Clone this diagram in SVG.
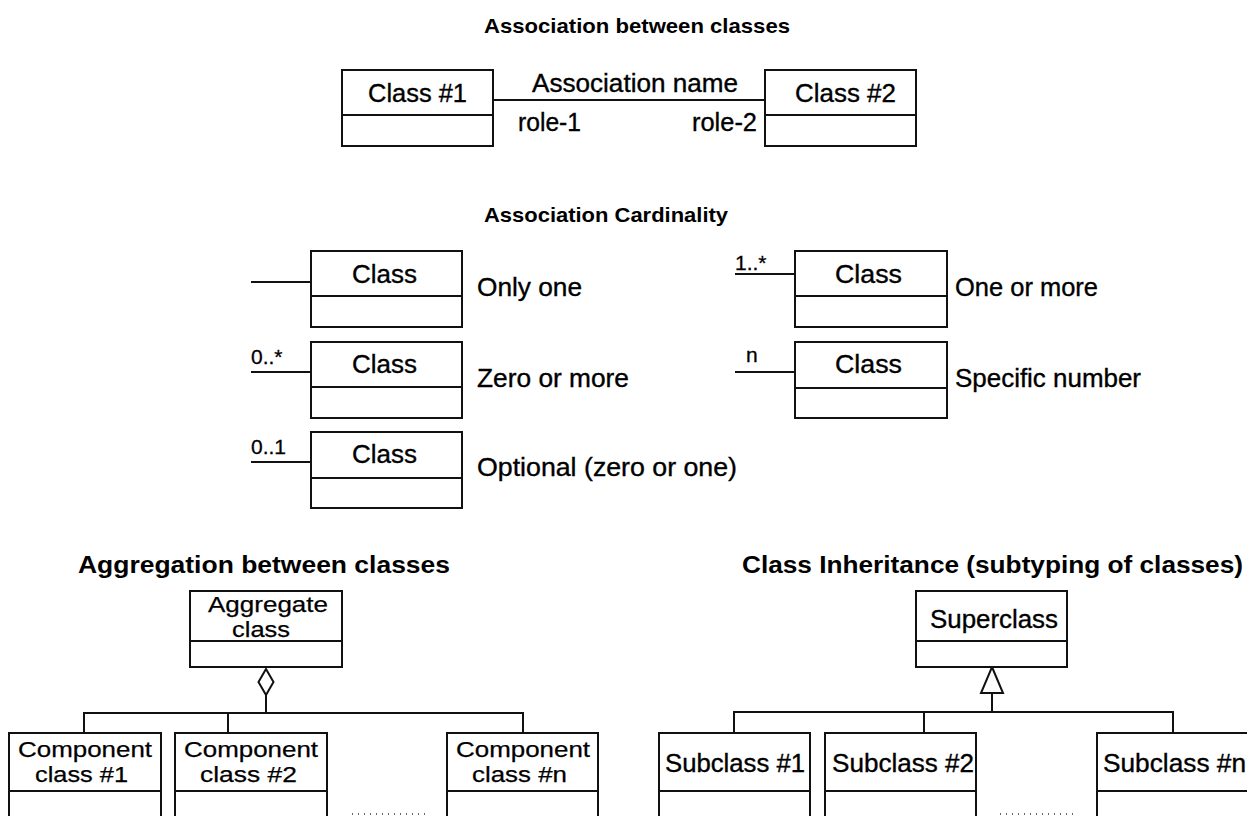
<svg xmlns="http://www.w3.org/2000/svg" width="1247" height="816" viewBox="0 0 1247 816">
<style>
.bx{fill:#fff;stroke:#111;stroke-width:2}
.dv{stroke:#111;stroke-width:2}
.cn{stroke:#111;stroke-width:2;fill:none}
.hd{fill:#fff;stroke:#111;stroke-width:2}
.dot{stroke:#333;stroke-width:1.5;stroke-dasharray:1 5;fill:none}
text{font-family:"Liberation Sans",Arial,sans-serif;fill:#000}
.t{font-size:25px;stroke:#000;stroke-width:0.35}
.m{font-size:22.5px;stroke:#000;stroke-width:0.25}
.s{font-size:21px;stroke:#000;stroke-width:0.3}
.h1{font-size:21px;font-weight:bold}
.h2{font-size:23px;font-weight:bold}
</style>
<rect width="1247" height="816" fill="#fff"/>

<g id="titles">
<text class="h1" x="484" y="33" textLength="306" lengthAdjust="spacingAndGlyphs">Association between classes</text>
<text class="h1" x="484" y="222" textLength="244" lengthAdjust="spacingAndGlyphs">Association Cardinality</text>
<text class="h2" x="78" y="573" textLength="372" lengthAdjust="spacingAndGlyphs">Aggregation between classes</text>
<text class="h2" x="742" y="573" textLength="501" lengthAdjust="spacingAndGlyphs">Class Inheritance (subtyping of classes)</text>
</g>

<g id="connectors">
<line class="cn" x1="493" y1="100" x2="765" y2="100"/>
<line class="cn" x1="251" y1="282" x2="311" y2="282"/>
<line class="cn" x1="251" y1="372" x2="311" y2="372"/>
<line class="cn" x1="251" y1="462" x2="311" y2="462"/>
<line class="cn" x1="735" y1="274" x2="795" y2="274"/>
<line class="cn" x1="735" y1="372" x2="795" y2="372"/>
<polyline class="cn" points="266,695 266,713"/>
<polyline class="cn" points="84,733 84,713 523,713 523,733"/>
<line class="cn" x1="228" y1="713" x2="228" y2="733"/>
<polygon class="hd" points="266,669 273.5,682 266,695 258.5,682"/>
<polyline class="cn" points="992,693 992,712"/>
<polyline class="cn" points="734,733 734,712 1173,712 1173,733"/>
<line class="cn" x1="924" y1="712" x2="924" y2="733"/>
<polygon class="hd" points="992,667 1003,693 981,693"/>
<line class="dot" x1="352" y1="814" x2="427" y2="814"/>
<line class="dot" x1="1000" y1="814" x2="1078" y2="814"/>
</g>

<g id="assoc-labels">
<text class="t" x="532" y="92" textLength="206" lengthAdjust="spacingAndGlyphs">Association name</text>
<text class="t" x="518" y="131" textLength="63" lengthAdjust="spacingAndGlyphs">role-1</text>
<text class="t" x="692" y="131" textLength="65" lengthAdjust="spacingAndGlyphs">role-2</text>
</g>

<g id="class1">
<rect class="bx" x="342" y="70" width="151" height="76"/>
<line class="dv" x1="342" y1="115" x2="493" y2="115"/>
<text class="t" x="368" y="102" textLength="99" lengthAdjust="spacingAndGlyphs">Class #1</text>
</g>
<g id="class2">
<rect class="bx" x="765" y="70" width="151" height="76"/>
<line class="dv" x1="765" y1="115" x2="916" y2="115"/>
<text class="t" x="795" y="102" textLength="101" lengthAdjust="spacingAndGlyphs">Class #2</text>
</g>

<g id="card-only-one">
<rect class="bx" x="311" y="251" width="151" height="76"/>
<line class="dv" x1="311" y1="296" x2="462" y2="296"/>
<text class="t" x="352" y="283" textLength="65" lengthAdjust="spacingAndGlyphs">Class</text>
<text class="t" x="477" y="296" textLength="105" lengthAdjust="spacingAndGlyphs">Only one</text>
</g>
<g id="card-zero-more">
<rect class="bx" x="311" y="342" width="151" height="76"/>
<line class="dv" x1="311" y1="387" x2="462" y2="387"/>
<text class="t" x="352" y="373" textLength="65" lengthAdjust="spacingAndGlyphs">Class</text>
<text class="t" x="477" y="387" textLength="152" lengthAdjust="spacingAndGlyphs">Zero or more</text>
<text class="s" x="251" y="364">0..*</text>
</g>
<g id="card-optional">
<rect class="bx" x="311" y="432" width="151" height="76"/>
<line class="dv" x1="311" y1="478" x2="462" y2="478"/>
<text class="t" x="352" y="463" textLength="65" lengthAdjust="spacingAndGlyphs">Class</text>
<text class="t" x="477" y="476" textLength="260" lengthAdjust="spacingAndGlyphs">Optional (zero or one)</text>
<text class="s" x="251" y="454">0..1</text>
</g>
<g id="card-one-more">
<rect class="bx" x="795" y="251" width="152" height="76"/>
<line class="dv" x1="795" y1="296" x2="947" y2="296"/>
<text class="t" x="835" y="283" textLength="67" lengthAdjust="spacingAndGlyphs">Class</text>
<text class="t" x="955" y="296" textLength="143" lengthAdjust="spacingAndGlyphs">One or more</text>
<text class="s" x="735" y="270">1..*</text>
</g>
<g id="card-specific">
<rect class="bx" x="795" y="342" width="152" height="76"/>
<line class="dv" x1="795" y1="388" x2="947" y2="388"/>
<text class="t" x="835" y="373" textLength="67" lengthAdjust="spacingAndGlyphs">Class</text>
<text class="t" x="955" y="387" textLength="186" lengthAdjust="spacingAndGlyphs">Specific number</text>
<text class="s" x="746" y="362">n</text>
</g>

<g id="aggregate">
<rect class="bx" x="190" y="591" width="152" height="76"/>
<line class="dv" x1="190" y1="641" x2="342" y2="641"/>
<text class="m" x="208" y="612" textLength="120" lengthAdjust="spacingAndGlyphs">Aggregate</text>
<text class="m" x="232" y="637" textLength="58" lengthAdjust="spacingAndGlyphs">class</text>
</g>
<g id="component1">
<rect class="bx" x="9" y="733" width="152" height="120"/>
<line class="dv" x1="9" y1="791" x2="161" y2="791"/>
<text class="m" x="18" y="757" textLength="134" lengthAdjust="spacingAndGlyphs">Component</text>
<text class="m" x="35" y="782" textLength="93" lengthAdjust="spacingAndGlyphs">class #1</text>
</g>
<g id="component2">
<rect class="bx" x="175" y="733" width="152" height="120"/>
<line class="dv" x1="175" y1="791" x2="327" y2="791"/>
<text class="m" x="184" y="757" textLength="134" lengthAdjust="spacingAndGlyphs">Component</text>
<text class="m" x="200" y="782" textLength="97" lengthAdjust="spacingAndGlyphs">class #2</text>
</g>
<g id="componentn">
<rect class="bx" x="447" y="733" width="151" height="120"/>
<line class="dv" x1="447" y1="791" x2="598" y2="791"/>
<text class="m" x="456" y="757" textLength="134" lengthAdjust="spacingAndGlyphs">Component</text>
<text class="m" x="472" y="782" textLength="95" lengthAdjust="spacingAndGlyphs">class #n</text>
</g>

<g id="superclass">
<rect class="bx" x="916" y="591" width="151" height="76"/>
<line class="dv" x1="916" y1="641" x2="1067" y2="641"/>
<text class="t" x="930" y="628" textLength="128" lengthAdjust="spacingAndGlyphs">Superclass</text>
</g>
<g id="subclass1">
<rect class="bx" x="659" y="733" width="151" height="120"/>
<line class="dv" x1="659" y1="791" x2="810" y2="791"/>
<text class="t" x="665" y="772" textLength="140" lengthAdjust="spacingAndGlyphs">Subclass #1</text>
</g>
<g id="subclass2">
<rect class="bx" x="825" y="733" width="151" height="120"/>
<line class="dv" x1="825" y1="791" x2="976" y2="791"/>
<text class="t" x="832" y="772" textLength="142" lengthAdjust="spacingAndGlyphs">Subclass #2</text>
</g>
<g id="subclassn">
<rect class="bx" x="1097" y="733" width="170" height="120"/>
<line class="dv" x1="1097" y1="791" x2="1267" y2="791"/>
<text class="t" x="1103" y="772" textLength="143" lengthAdjust="spacingAndGlyphs">Subclass #n</text>
</g>
</svg>
